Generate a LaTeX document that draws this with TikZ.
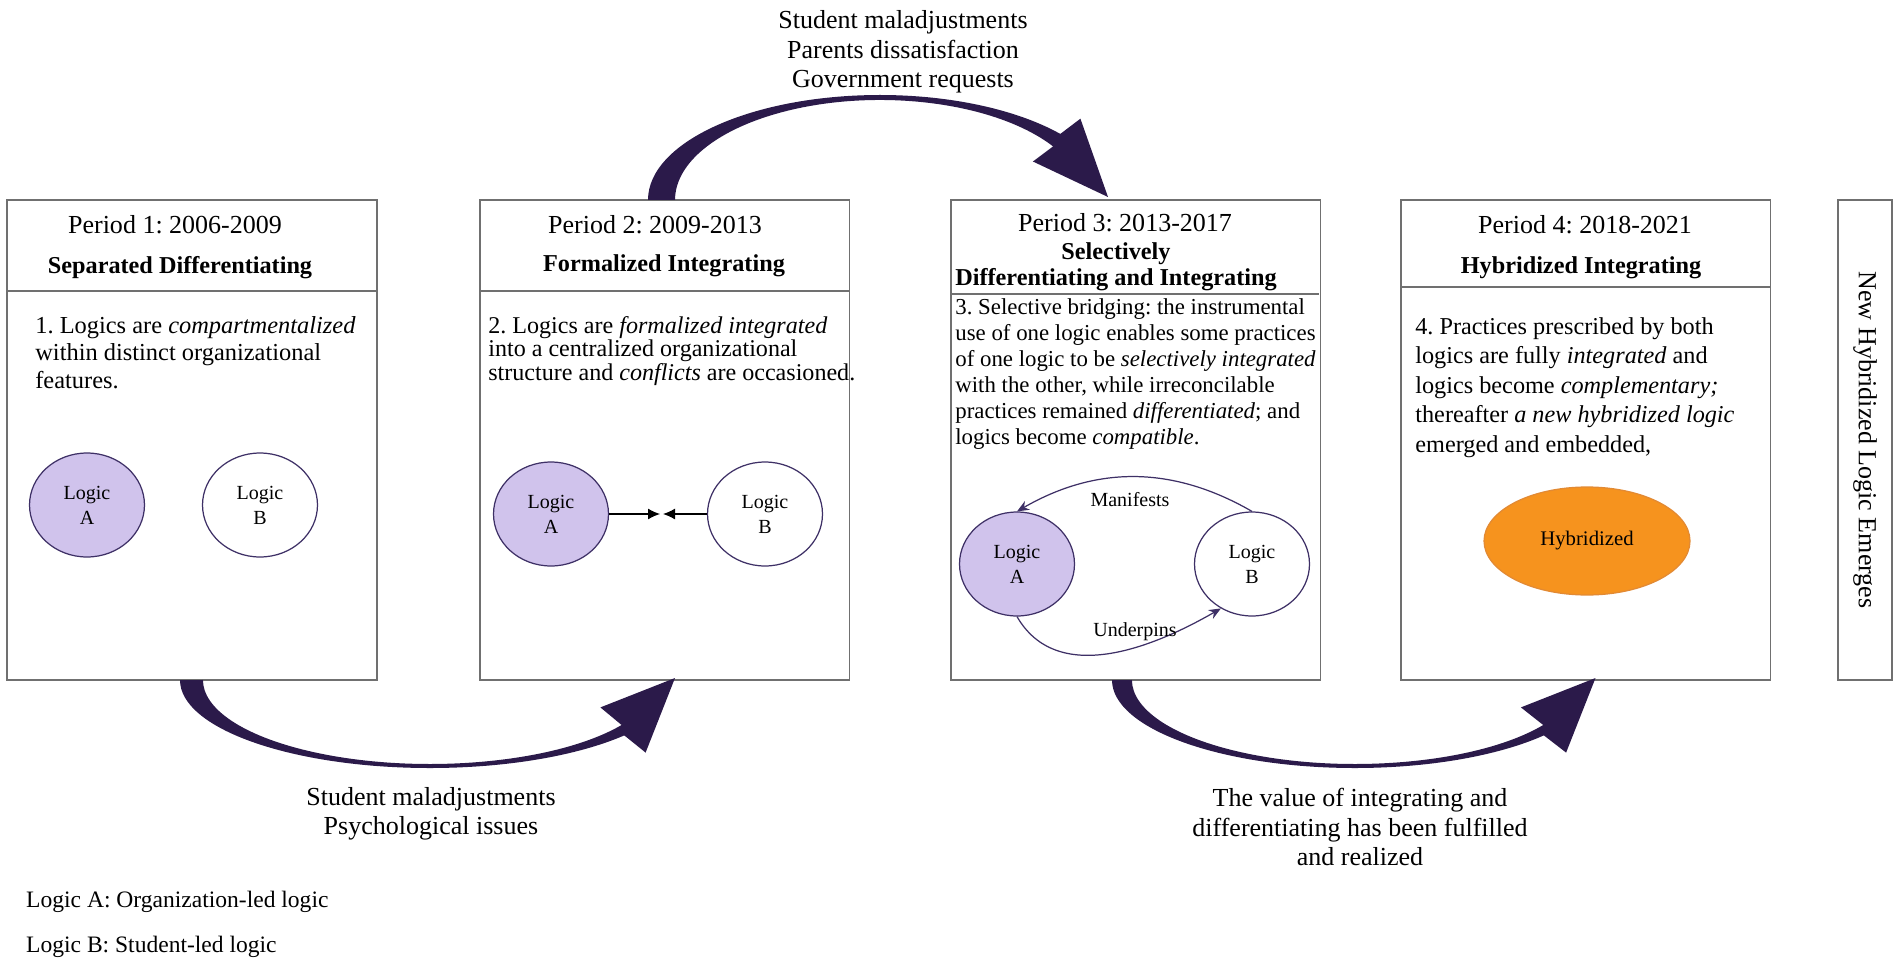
\documentclass[tikz,border=0pt]{standalone}
\usepackage{fontspec}
\setmainfont{Liberation Serif}
\usepackage{tikz}
\usetikzlibrary{shapes.geometric, arrows.meta, positioning}
\definecolor{boxgray}{RGB}{112,112,112}
\definecolor{bandpurple}{RGB}{43,26,74}
\definecolor{logicfill}{RGB}{208,195,236}
\definecolor{logicline}{RGB}{62,48,102}
\definecolor{hybridfill}{RGB}{246,147,30}
\definecolor{hybridline}{RGB}{226,138,52}
\newcommand{\bandcolor}{bandpurple}
\newcommand{\framecolor}{boxgray}
\frenchspacing
\tikzset{
x=0.02cm, y=0.02cm, % one unit is one pixel of the scan
periodbox/.style={draw=\framecolor, line width=1.1pt, minimum width=7.4cm, minimum height=9.6cm, inner sep=0}, % the four period frames
sepline/.style={draw=\framecolor, line width=1.1pt},
periodtitle/.style={font=\fontsize{14.8}{16.8}\selectfont},
phasetitle/.style={font=\bfseries\fontsize{13.8}{14.6}\selectfont, align=center},
bodytext/.style={anchor=north west, align=left, inner sep=0},
note/.style={align=center, font=\fontsize{14.8}{16.8}\selectfont}, % texts next to the big arrows
logic/.style={ellipse, draw=logicline, line width=0.7pt, minimum width=2.3cm, minimum height=2.08cm, inner sep=0, align=center, font=\fontsize{11.4}{14.2}\selectfont},
logica/.style={logic, fill=logicfill},
logicb/.style={logic, fill=white},
meetarrow/.style={-{Latex[length=0.24cm, width=0.22cm]}, line width=0.7pt},
cyclearrow/.style={-{Stealth[length=0.24cm, width=0.2cm]}, draw=logicline, line width=0.7pt},
legendtext/.style={anchor=west, font=\fontsize{13.4}{15}\selectfont},
}

\begin{document}
\begin{tikzpicture}
\useasboundingbox (0,0) rectangle (1902,965);

% frames
\node[periodbox] (p1) at (192,525) {};
\node[periodbox] (p2) at (664.5,525) {};
\node[periodbox] (p3) at (1135.5,525) {};
\node[periodbox] (p4) at (1585.5,525) {};
\node[periodbox, minimum width=1.08cm] (emerge) at (1865,525) {};
\draw[sepline] (7,674) -- (377,674);
\draw[sepline] (480,674) -- (849,674);
\draw[sepline] (952,671) -- (1319,671);
\draw[sepline] (1401,678) -- (1770,678);

% headers
\node[periodtitle] (t1) at (175,740) {Period 1: 2006-2009};
\node[phasetitle] (s1) at (180,697) {Separated Differentiating};
\node[periodtitle] (t2) at (655,740) {Period 2: 2009-2013};
\node[phasetitle] (s2) at (664,699) {Formalized Integrating};
\node[periodtitle] (t3) at (1125,742) {Period 3: 2013-2017};
\node[phasetitle] (s3) at (1116,698) {Selectively\\Differentiating and Integrating};
\node[periodtitle] (t4) at (1585,740) {Period 4: 2018-2021};
\node[phasetitle] (s4) at (1581,697) {Hybridized Integrating};
\node[periodtitle, rotate=-90] (emergetext) at (emerge) {New Hybridized Logic Emerges};

% descriptions
\node[bodytext, font=\fontsize{13.9}{15.6}\selectfont] (d1) at (35,649) {1. Logics are \textit{compartmentalized}\\within distinct organizational\\features.};
\node[bodytext, font=\fontsize{13.7}{13.4}\selectfont] (d2) at (488,649) {2. Logics are \textit{formalized integrated}\\into a centralized organizational\\structure and \textit{conflicts} are occasioned.};
\node[bodytext, font=\fontsize{13}{14.8}\selectfont] (d3) at (955,667) {3. Selective bridging: the instrumental\\use of one logic enables some practices\\of one logic to be \textit{selectively integrated}\\with the other, while irreconcilable\\practices remained \textit{differentiated}; and\\logics become \textit{compatible}.};
\node[bodytext, font=\fontsize{13.8}{16.8}\selectfont] (d4) at (1415,648) {4. Practices prescribed by both\\logics are fully \textit{integrated} and\\logics become \textit{complementary;}\\thereafter \textit{a new hybridized logic}\\emerged and embedded,};

% logics
\node[logica] (a1) at (87,460) {Logic\\A};
\node[logicb] (b1) at (260,460) {Logic\\B};
\node[logica] (a2) at (551,451) {Logic\\A};
\node[logicb] (b2) at (765,451) {Logic\\B};
\node[logica] (a3) at (1017,401) {Logic\\A};
\node[logicb] (b3) at (1252,401) {Logic\\B};
\node[ellipse, draw=hybridline, fill=hybridfill, line width=0.7pt, minimum width=4.12cm, minimum height=2.16cm, font=\fontsize{11.8}{14}\selectfont] (h4) at (1587,424) {Hybridized};

% edges
\coordinate (m2l) at (660,451);
\coordinate (m2r) at (663,451);
\draw[meetarrow] (a2) -- (m2l); % A to meet
\draw[meetarrow] (b2) -- (m2r); % B to meet
\draw[cyclearrow] (b3.north) to[out=150, in=30] (a3.north); % B to A
\draw[cyclearrow] (a3.south) to[out=-60, in=210] (b3.235); % A to B
\node[font=\fontsize{11.4}{13}\selectfont] (man) at (1130,465) {Manifests};
\node[font=\fontsize{11.4}{13}\selectfont] (und) at (1135,333) {Underpins};

% big curved arrows
\fill[\bandcolor] (648,765) arc[start angle=180, end angle=39, x radius=232, y radius=105] -- (1080.4,846.3) -- (1108,768) -- (1032.9,803.5) -- (1053.1,818.6) arc[start angle=32.4, end angle=180, x radius=205, y radius=100] -- cycle; % period 2 to 3
\fill[\bandcolor] (180,285) arc[start angle=180, end angle=321, x radius=250, y radius=88] -- (645.6,212.4) -- (675,287) -- (600.4,257.6) -- (621.6,240) arc[start angle=327.6, end angle=180, x radius=227, y radius=84] -- cycle; % period 1 to 2
\fill[\bandcolor] (1112,285) arc[start angle=180, end angle=321, x radius=243, y radius=88] -- (1566.1,212.4) -- (1595.5,287) -- (1520.9,257.6) -- (1543.2,240) arc[start angle=327.6, end angle=180, x radius=223, y radius=84] -- cycle; % period 3 to 4

% causes
\node[note] (topcause) at (903,913) {Student maladjustments\\Parents dissatisfaction\\Government requests};
\node[note] (leftcause) at (431,151) {Student maladjustments\\Psychological issues};
\node[note] (rightcause) at (1360,138) {The value of integrating and\\differentiating has been fulfilled\\and realized};

% legend
\node[legendtext] (lega) at (20,63) {Logic A: Organization-led logic};
\node[legendtext] (legb) at (20,18) {Logic B: Student-led logic};
\end{tikzpicture}
\end{document}
